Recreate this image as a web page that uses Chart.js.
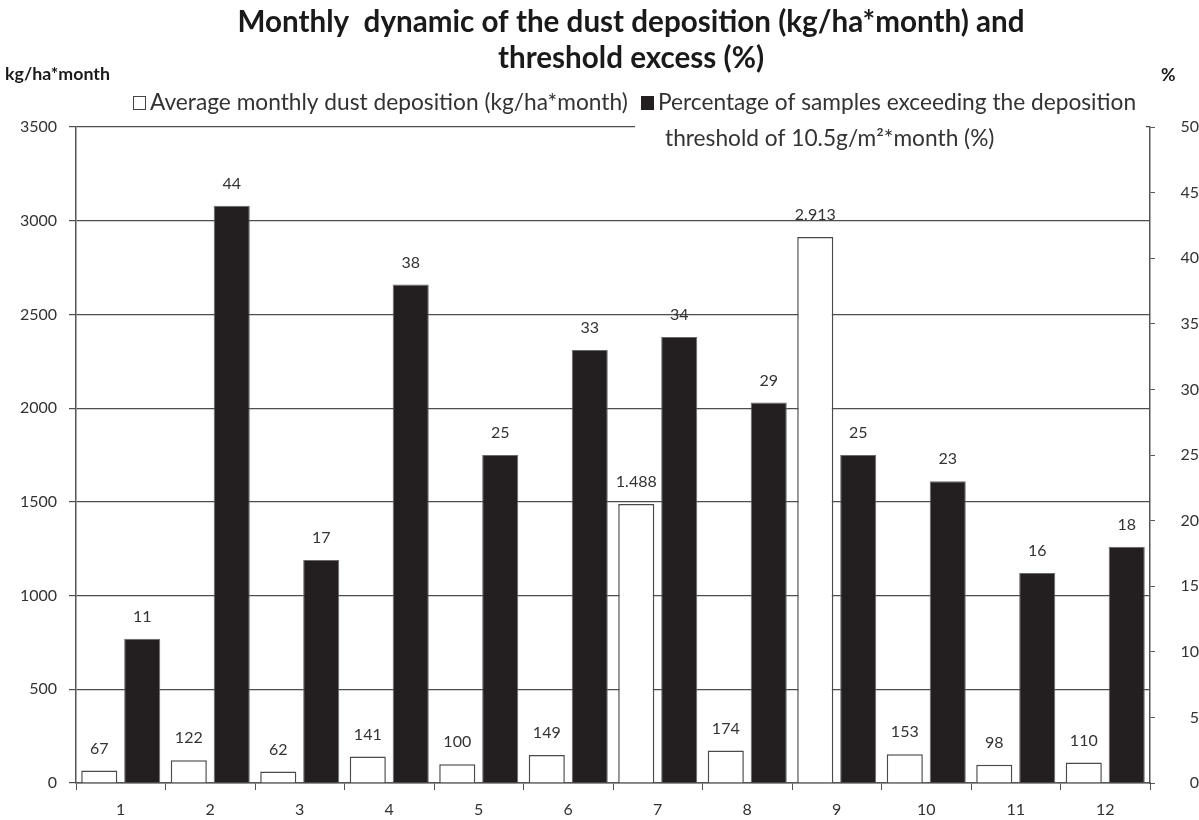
<!DOCTYPE html>
<html><head><meta charset="utf-8">
<script src="https://cdn.jsdelivr.net/npm/chart.js@4"></script>
<style>html,body{margin:0;padding:0;background:#fff}</style>
</head><body>
<canvas id="c" width="1199" height="820"></canvas>
<script>
// ---- data ----
const categories = ['1','2','3','4','5','6','7','8','9','10','11','12'];
const depositionValues = [67, 122, 62, 141, 100, 149, 1488, 174, 2913, 153, 98, 110];
const exceedancePercent = [11, 44, 17, 38, 25, 33, 34, 29, 25, 23, 16, 18];
const leftAxis = {min: 0, max: 3500, step: 500};
const rightAxis = {min: 0, max: 50, step: 5};
const titleLines = ['Monthly  dynamic of the dust deposition (kg/ha*month) and', 'threshold excess (%)'];
const legendTexts = ['Average monthly dust deposition (kg/ha*month)', 'Percentage of samples exceeding the deposition', 'threshold of 10.5g/m\u00B2*month (%)'];
const leftUnit = 'kg/ha*month';
const rightUnit = '%';

const TXT = '#333333';
const FONT = 'Lato, "Open Sans", sans-serif';

function fmtThousands(v){
  return String(v).replace(/\B(?=(\d{3})+(?!\d))/g, '.');
}

function fitSize(ctx, text, width, weight, base){
  ctx.font = weight + ' ' + base + 'px ' + FONT;
  return base * width / ctx.measureText(text).width;
}

const decorPlugin = {
  id: 'decor',
  afterDatasetsDraw(chart){
    const ctx = chart.ctx;
    ctx.save();
    ctx.fillStyle = TXT;
    ctx.font = '16px ' + FONT;
    ctx.textAlign = 'center';
    ctx.textBaseline = 'middle';
    chart.data.datasets.forEach((ds, di) => {
      const meta = chart.getDatasetMeta(di);
      meta.data.forEach((bar, i) => {
        const v = ds.data[i];
        const label = di === 0 ? fmtThousands(v) : String(v);
        ctx.fillText(label, bar.x, bar.y - 22);
      });
    });
    ctx.restore();
  },
  afterDraw(chart){
    const ctx = chart.ctx;
    ctx.save();
    ctx.textBaseline = 'middle';
    // title
    ctx.fillStyle = '#1a1a1a';
    const ts = fitSize(ctx, titleLines[0], 787, 'bold', 24);
    ctx.font = 'bold ' + ts.toFixed(2) + 'px ' + FONT;
    ctx.textAlign = 'center';
    ctx.fillText(titleLines[0], 631, 22);
    ctx.fillText(titleLines[1], 631, 58);
    // axis units
    const us = fitSize(ctx, leftUnit, 105, 'bold', 14);
    ctx.font = 'bold ' + us.toFixed(2) + 'px ' + FONT;
    ctx.textAlign = 'left';
    ctx.fillText(leftUnit, 5, 74);
    ctx.fillText(rightUnit, 1161, 75);
    // legend background
    ctx.fillStyle = '#ffffff';
    ctx.fillRect(635, 89, 511, 64);
    // legend entry 1
    ctx.strokeStyle = '#444';
    ctx.lineWidth = 1;
    ctx.fillRect(133.5, 96.5, 12, 13);
    ctx.strokeRect(133.5, 96.5, 12, 13);
    const ls = fitSize(ctx, legendTexts[0], 478, 'normal', 20);
    ctx.font = ls.toFixed(2) + 'px ' + FONT;
    ctx.fillStyle = TXT;
    ctx.fillText(legendTexts[0], 150, 103);
    // legend entry 2
    ctx.fillStyle = '#231f20';
    ctx.fillRect(641, 96, 13, 14);
    ctx.fillStyle = TXT;
    ctx.fillText(legendTexts[1], 658, 103);
    ctx.fillText(legendTexts[2], 665, 139);
    ctx.restore();
  }
};

new Chart(document.getElementById('c'), {
  type: 'bar',
  data: {
    labels: categories,
    datasets: [
      {
        label: legendTexts[0],
        data: depositionValues,
        yAxisID: 'y',
        backgroundColor: '#ffffff',
        borderColor: '#4a4a4a',
        borderWidth: 1.5,
        categoryPercentage: 0.96,
        barPercentage: 0.84
      },
      {
        label: legendTexts[1] + ' ' + legendTexts[2],
        data: exceedancePercent,
        yAxisID: 'y1',
        backgroundColor: '#231f20',
        borderColor: '#6a6a6a',
        borderWidth: 1,
        categoryPercentage: 0.96,
        barPercentage: 0.84
      }
    ]
  },
  options: {
    responsive: false,
    devicePixelRatio: 1,
    animation: false,
    layout: {padding: {top: 127, left: 0, right: 0, bottom: 0}},
    plugins: {legend: {display: false}, title: {display: false}, tooltip: {enabled: false}},
    scales: {
      x: {
        grid: {display: true, drawOnChartArea: false, offset: true, color: '#555', tickLength: 7, lineWidth: 1},
        border: {color: '#555', width: 1.5},
        ticks: {color: TXT, font: {family: FONT, size: 16}, padding: 10, maxRotation: 0},
        afterFit(s){ s.height = 37; }
      },
      y: {
        position: 'left',
        min: leftAxis.min, max: leftAxis.max,
        ticks: {stepSize: leftAxis.step, color: TXT, font: {family: FONT, size: 16}, padding: 12,
                callback: v => String(v)},
        grid: {color: '#4d4d4d', lineWidth: 1.2, tickLength: 7},
        border: {color: '#555', width: 1.5},
        afterFit(s){ s.width = 76; }
      },
      y1: {
        position: 'right',
        min: rightAxis.min, max: rightAxis.max,
        ticks: {stepSize: rightAxis.step, color: TXT, font: {family: FONT, size: 16}, padding: 17, crossAlign: 'far',
                callback: v => String(v)},
        grid: {drawOnChartArea: false, color: '#555', tickLength: 5, lineWidth: 1},
        border: {color: '#555', width: 1.5},
        afterFit(s){ s.width = 49; }
      }
    }
  },
  plugins: [decorPlugin]
});
</script>
</body></html>
